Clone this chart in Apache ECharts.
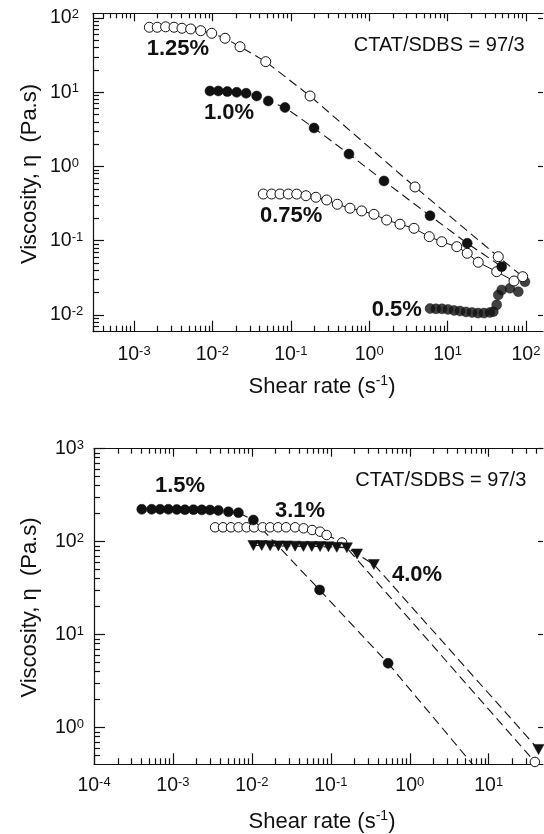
<!DOCTYPE html>
<html><head><meta charset="utf-8">
<script src="https://cdn.jsdelivr.net/npm/echarts@6/dist/echarts.min.js"></script>
<style>html,body{margin:0;padding:0;background:#fff}#c{width:544px;height:834px}</style>
</head><body><div id="c"></div>
<script>
// ---------- Data (shear rate in 1/s, viscosity in Pa.s) ----------
// Top panel
const shear125 = [0.00157, 0.00198, 0.00253, 0.00324, 0.00409, 0.00528, 0.0071, 0.0098, 0.0145, 0.0225, 0.0479, 0.176, 3.84, 44.3, 90.8];
const visc125  = [75, 75, 76, 75, 72.7, 71.1, 67.4, 62.2, 53.3, 41, 25.8, 8.9, 0.53, 0.061, 0.0328];
const shear100 = [0.0093, 0.0119, 0.0155, 0.0204, 0.0269, 0.0367, 0.0516, 0.0843, 0.198, 0.552, 1.545, 5.97, 17.8, 49];
const visc100  = [10.4, 10.4, 10.2, 9.98, 9.68, 8.9, 7.62, 6.23, 3.3, 1.47, 0.638, 0.217, 0.0924, 0.0448];
const shear075 = [0.0446, 0.057, 0.0728, 0.0929, 0.119, 0.156, 0.209, 0.287, 0.392, 0.569, 0.802, 1.15, 1.67, 2.47, 3.73, 5.84, 8.41, 13.1, 17.8, 24.6, 42.3, 70.3];
const visc075  = [0.426, 0.426, 0.426, 0.426, 0.425, 0.404, 0.385, 0.354, 0.31, 0.274, 0.252, 0.227, 0.19, 0.167, 0.147, 0.1135, 0.097, 0.0832, 0.0678, 0.0513, 0.0383, 0.0287];
const shear050 = [5.97, 7.11, 8.48, 10.1, 12.1, 14.4, 17.2, 20.5, 24.4, 29.1, 34.7, 38.3, 42.3, 44.3, 49, 62.5, 79.8, 97];
const visc050  = [0.0122, 0.0121, 0.0121, 0.0119, 0.0115, 0.0113, 0.011, 0.0108, 0.0106, 0.0106, 0.0108, 0.0111, 0.0137, 0.0186, 0.0217, 0.0229, 0.0206, 0.028];
// Bottom panel
const shear15 = [0.000403, 0.000538, 0.000687, 0.000875, 0.00112, 0.00142, 0.00182, 0.00232, 0.00295, 0.00376, 0.00504, 0.00675, 0.01045, 0.0721, 0.532];
const visc15  = [223, 223, 223, 223, 222, 221, 221, 220, 219, 217, 210, 205, 171, 30.3, 4.92];
const fit15Shear = [0.532, 6.3];
const fit15Visc  = [4.92, 0.40];
const shear31 = [0.00342, 0.00431, 0.00544, 0.00677, 0.00857, 0.01067, 0.01368, 0.01703, 0.0215, 0.0271, 0.0353, 0.0452, 0.058, 0.0731, 0.0885, 0.139, 38.5];
const visc31  = [142.8, 142.8, 142.8, 142.8, 142.8, 142.8, 142.8, 142.8, 142.8, 142.8, 142.8, 139.3, 133.6, 128.1, 118, 98, 0.428];
const shear40 = [0.01045, 0.01333, 0.01703, 0.0217, 0.0277, 0.0353, 0.045, 0.0574, 0.0731, 0.0933, 0.119, 0.16, 0.215, 0.351, 42.8];
const visc40  = [91, 91, 90.5, 90, 90, 89.5, 89, 89, 88.5, 88, 87, 86, 73.8, 56.9, 0.583];
// Axis ranges (decades) and tick-label exponents
const topXRange = [-3.523, 2.217];
const topYRange = [-2.225, 2.063];
const botXRange = [-4, 1.688];
const botYRange = [-0.394, 3];
const topXTicks = [-3, -2, -1, 0, 1, 2];
const topYTicks = [-2, -1, 0, 1, 2];
const botXTicks = [-4, -3, -2, -1, 0, 1];
const botYTicks = [0, 1, 2, 3];

// ---------- Helpers ----------
const FONT = "'Liberation Sans', Arial, Helvetica, sans-serif";
const INK = '#111';
const L = Math.log10;
function pts(xs, ys) { return xs.map((x, i) => [L(x), L(ys[i])]); }
function minors(r) {
  const out = [];
  for (let n = Math.floor(r[0]); n <= Math.ceil(r[1]); n++) {
    for (let k = 2; k <= 9; k++) { const v = n + L(k); if (v > r[0] && v < r[1]) out.push(v); }
  }
  return out;
}
const RICH = {
  b: { fontSize: 19.5, fontFamily: FONT, color: INK, lineHeight: 22 },
  s: { fontSize: 13, fontFamily: FONT, color: INK, padding: [0, 0, 7, 0] }
};
const fmt = v => '{b|10}{s|' + Math.round(v) + '}';
const lineSt = { color: INK, width: 1.2 };

function xAxes(grid, r, majors, margin) {
  const mv = minors(r);
  const base = { type: 'value', gridIndex: grid, min: r[0], max: r[1], splitLine: { show: false }, axisLabel: { show: false } };
  return [
    Object.assign({}, base, { position: 'bottom',
      axisLine: { show: true, onZero: false, lineStyle: lineSt },
      axisTick: { show: true, inside: true, length: 11, customValues: majors, lineStyle: lineSt },
      axisLabel: { show: true, customValues: majors, margin: margin, formatter: fmt, rich: RICH, fontSize: 19.5, fontFamily: FONT, color: INK } }),
    Object.assign({}, base, { position: 'bottom',
      axisLine: { show: false, onZero: false },
      axisTick: { show: true, inside: true, length: 6, customValues: mv, lineStyle: lineSt } }),
    Object.assign({}, base, { position: 'top',
      axisLine: { show: true, onZero: false, lineStyle: lineSt },
      axisTick: { show: true, inside: true, length: 8, customValues: majors, lineStyle: lineSt } }),
    Object.assign({}, base, { position: 'top',
      axisLine: { show: false, onZero: false },
      axisTick: { show: true, inside: true, length: 5, customValues: mv, lineStyle: lineSt } })
  ];
}
function yAxes(grid, r, majors, margin) {
  const mv = minors(r);
  const base = { type: 'value', gridIndex: grid, min: r[0], max: r[1], splitLine: { show: false }, axisLabel: { show: false } };
  return [
    Object.assign({}, base, { position: 'left',
      axisLine: { show: true, onZero: false, lineStyle: lineSt },
      axisTick: { show: true, inside: true, length: 11, customValues: majors, lineStyle: lineSt },
      axisLabel: { show: true, customValues: majors, margin: margin, align: 'left', formatter: fmt, rich: RICH, fontSize: 19.5, fontFamily: FONT, color: INK } }),
    Object.assign({}, base, { position: 'left',
      axisLine: { show: false, onZero: false },
      axisTick: { show: true, inside: true, length: 6, customValues: mv, lineStyle: lineSt } }),
    Object.assign({}, base, { position: 'right',
      axisLine: { show: false, onZero: false },
      axisTick: { show: true, inside: true, length: 5, customValues: majors, lineStyle: lineSt } })
  ];
}

const openSym = { color: '#fff', borderColor: INK, borderWidth: 1 };
const fillSym = { color: INK, borderColor: INK, borderWidth: 0.5 };
const dash = { color: INK, width: 1.1, type: [9, 5] };
function ser(xi, yi, xs, ys, o) {
  return Object.assign({
    type: 'line', xAxisIndex: xi, yAxisIndex: yi, data: pts(xs, ys),
    symbol: 'circle', symbolSize: 10, showSymbol: true, showAllSymbol: true,
    silent: true, animation: false, clip: true, emphasis: { disabled: true }
  }, o);
}

const series = [
  ser(0, 0, shear075, visc075, { itemStyle: openSym, lineStyle: { color: INK, width: 1 } }),
  ser(0, 0, shear125, visc125, { itemStyle: openSym, lineStyle: dash }),
  ser(0, 0, shear100, visc100, { itemStyle: fillSym, lineStyle: dash }),
  ser(0, 0, shear050, visc050, { type: 'scatter', itemStyle: fillSym }),
  ser(4, 3, shear31, visc31, { itemStyle: openSym, symbolSize: 9.5, lineStyle: dash }),
  ser(4, 3, shear40, visc40, { itemStyle: fillSym, symbol: 'triangle', symbolRotate: 180, symbolSize: [11, 10], lineStyle: dash }),
  ser(4, 3, fit15Shear, fit15Visc, { showSymbol: false, symbol: 'none', lineStyle: dash }),
  ser(4, 3, shear15, visc15, { itemStyle: fillSym, lineStyle: dash })
];

function txt(x, y, text, size, bold) {
  return { type: 'text', x: x, y: y, silent: true, z: 100,
    style: { text: text, fill: INK, fontSize: size, fontFamily: FONT, fontWeight: bold ? 'bold' : 'normal',
      align: 'left', verticalAlign: 'middle', textAlign: 'left', textVerticalAlign: 'middle' } };
}
function ytitle(x, y) {
  return { type: 'text', x: x, y: y, rotation: Math.PI / 2, silent: true,
    style: { text: 'Viscosity, η  (Pa.s)', fill: INK, fontSize: 22, fontFamily: FONT,
      align: 'center', verticalAlign: 'middle', textAlign: 'center', textVerticalAlign: 'middle' } };
}
function xtitle(x, y) {
  return { type: 'text', x: x, y: y, silent: true,
    style: { text: 'Shear rate (s{sup|-1})', fill: INK, fontSize: 22, fontFamily: FONT,
      align: 'center', verticalAlign: 'middle', textAlign: 'center', textVerticalAlign: 'middle',
      rich: { sup: { fontSize: 14, fontFamily: FONT, fill: INK, color: INK, padding: [0, 0, 11, 0] } } } };
}

const option = {
  backgroundColor: '#fff',
  animation: false,
  grid: [
    { left: 93, top: 13.3, width: 450, height: 318.4, containLabel: false, outerBoundsMode: 'none' },
    { left: 94, top: 448.7, width: 449, height: 315.6, containLabel: false, outerBoundsMode: 'none' }
  ],
  xAxis: xAxes(0, topXRange, topXTicks, 12).concat(xAxes(1, botXRange, botXTicks, 10.5)),
  yAxis: yAxes(0, topYRange, topYTicks, 43).concat(yAxes(1, botYRange, botYTicks, 39)),
  series: series,
  graphic: [
    txt(146.7, 49, '1.25%', 22, true),
    txt(204, 113, '1.0%', 22, true),
    txt(260, 216, '0.75%', 22, true),
    txt(371.7, 310, '0.5%', 22, true),
    txt(353.7, 45, 'CTAT/SDBS = 97/3', 20, false),
    txt(355.3, 480.5, 'CTAT/SDBS = 97/3', 20, false),
    txt(155, 485.5, '1.5%', 22, true),
    txt(275, 511, '3.1%', 22, true),
    txt(392, 575, '4.0%', 22, true),
    ytitle(30, 174),
    ytitle(30, 607.5),
    xtitle(322, 386.5),
    xtitle(322, 822)
  ]
};
const chart = echarts.init(document.getElementById('c'), null, { renderer: 'canvas' });
chart.setOption(option);
</script>
</body></html>
